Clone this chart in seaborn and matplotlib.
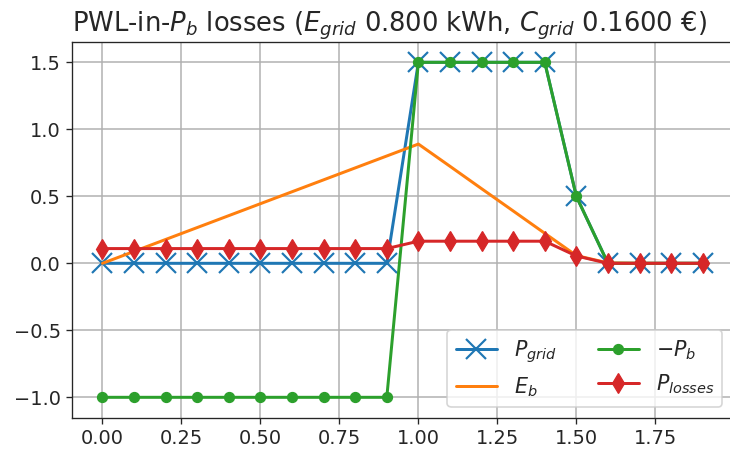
import numpy as np
import pandas as pd
import seaborn as sns
import matplotlib
matplotlib.use("Agg")
import matplotlib.pyplot as plt

# time axis (h) and the four series
t = [0.0, 0.1, 0.2, 0.3, 0.4, 0.5, 0.6, 0.7, 0.8, 0.9,
     1.0, 1.1, 1.2, 1.3, 1.4, 1.5, 1.6, 1.7, 1.8, 1.9]
p_grid = [0, 0, 0, 0, 0, 0, 0, 0, 0, 0,
          1.5, 1.5, 1.5, 1.5, 1.5, 0.5, 0, 0, 0, 0]
e_b = [0.0, 0.089, 0.178, 0.267, 0.356, 0.445, 0.534, 0.623, 0.712, 0.801,
       0.89, 0.724, 0.557, 0.391, 0.224, 0.058, 0.003, 0, 0, 0]
neg_p_b = [-1, -1, -1, -1, -1, -1, -1, -1, -1, -1,
           1.5, 1.5, 1.5, 1.5, 1.5, 0.5, 0, 0, 0, 0]
p_losses = [0.11, 0.11, 0.11, 0.11, 0.11, 0.11, 0.11, 0.11, 0.11, 0.11,
            0.165, 0.165, 0.165, 0.165, 0.165, 0.055, 0, 0, 0, 0]

sns.set_style("ticks")
plt.rcParams['font.family'] = ['DejaVu Sans']
plt.rcParams['xtick.labelsize'] = 11.6
plt.rcParams['ytick.labelsize'] = 11.6
plt.rcParams['lines.linewidth'] = 1.8

fig = plt.figure(figsize=(730 / 120, 450 / 120), dpi=120)
ax = fig.add_axes([0.0993, 0.0718, 0.9044, 0.8356])

sns.lineplot(x=t, y=p_grid, ax=ax, color='C0', marker='x', markersize=12,
             markeredgewidth=1.3, markeredgecolor='C0', label='$P_{grid}$')
sns.lineplot(x=t, y=e_b, ax=ax, color='C1', label='$E_b$')
sns.lineplot(x=t, y=neg_p_b, ax=ax, color='C2', marker='o', markersize=6,
             markeredgecolor='C2', label='$-P_b$')
sns.lineplot(x=t, y=p_losses, ax=ax, color='C3', marker='d', markersize=8.5,
             markeredgecolor='C3', label='$P_{losses}$')

ax.set_ylim(-1.152, 1.654)
ax.set_xlim(-0.095, 1.995)
ax.grid(True, color='#b0b0b0', linewidth=0.9)
# the reference image is cropped on the right, so the title sits a bit left of axes centre
ax.set_title('PWL-in-$P_b$ losses ($E_{grid}$ 0.800 kWh, $C_{grid}$ 0.1600 €)',
             fontsize=15.5, x=0.4795)
ax.legend(loc='lower right', ncol=2, fontsize=12.4)

fig.savefig('out.png', dpi=120)
